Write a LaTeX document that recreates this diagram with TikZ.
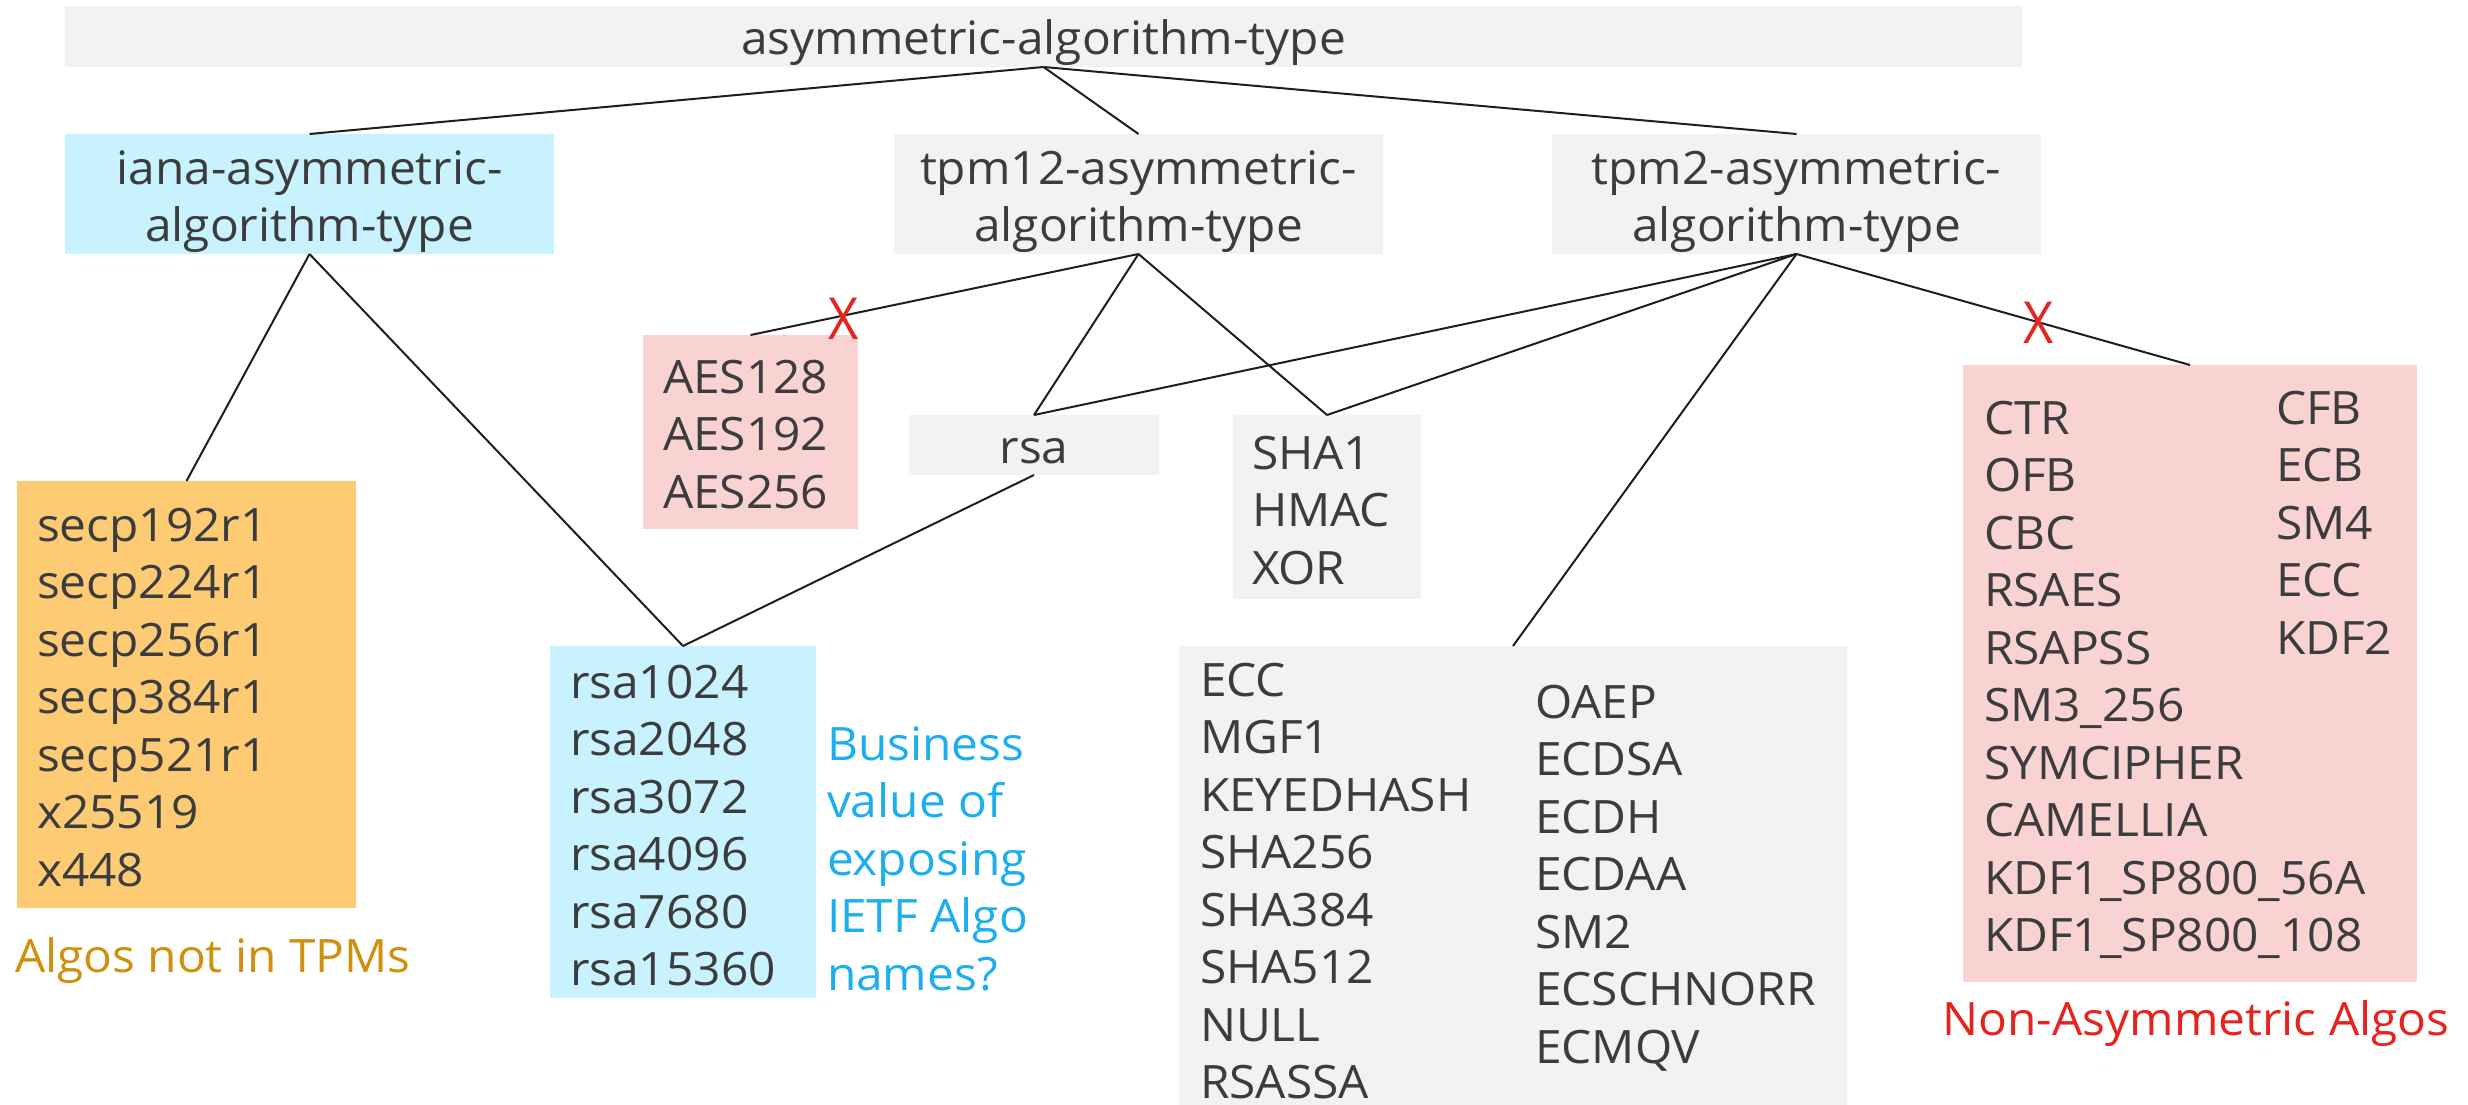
\documentclass[tikz,border=0pt]{standalone}
\usepackage{fontspec}
\setmainfont{Open Sans}[FakeStretch=1.04]
\newfontfamily\xfont{Open Sans}[FakeStretch=0.9]
\definecolor{gbox}{HTML}{F2F2F2}
\definecolor{cbox}{HTML}{C8F2FD}
\definecolor{pbox}{HTML}{F9D3D2}
\definecolor{obox}{HTML}{FCCB74}
\definecolor{txtc}{HTML}{3C3C3E}
\definecolor{ctxt}{HTML}{1CAEEF}
\definecolor{otxt}{HTML}{CF900E}
\definecolor{rtxt}{HTML}{E5231F}
\definecolor{linec}{HTML}{1E1E1E}
\newcommand{\lst}[1]{\begin{tabular}[t]{@{}l@{}}#1\end{tabular}}
\newcommand{\cst}[1]{\begin{tabular}[t]{@{}c@{}}#1\end{tabular}}
\begin{document}
\begin{tikzpicture}[x=1pt,y=-1pt,
  box/.style={inner sep=0pt, outer sep=0pt, draw=none},
  txt/.style={inner sep=0pt, outer sep=0pt, font=\fontsize{46}{57.5}\selectfont, text=txtc},
  conn/.style={draw=linec, line width=2pt},
  xmark/.style={inner sep=0pt, text=rtxt, font=\xfont\fontsize{58}{60}\selectfont}]
\useasboundingbox (0,0) rectangle (2468,1105);
% boxes
\node[box, fill=gbox, minimum width=1957pt, minimum height=61pt] (top) at (1043.5,36.5) {};
\node[box, fill=cbox, minimum width=489pt, minimum height=120pt] (iana) at (309.5,194) {};
\node[box, fill=gbox, minimum width=489pt, minimum height=120pt] (tpm12) at (1138.5,194) {};
\node[box, fill=gbox, minimum width=489pt, minimum height=120pt] (tpm2) at (1796.5,194) {};
\node[box, fill=pbox, minimum width=215pt, minimum height=194pt] (aes) at (750.5,432) {};
\node[box, fill=gbox, minimum width=250pt, minimum height=60pt] (rsa) at (1034,445) {};
\node[box, fill=gbox, minimum width=188pt, minimum height=184pt] (sha) at (1327,507) {};
\node[box, fill=obox, minimum width=339pt, minimum height=427pt] (ecurve) at (186.5,694.5) {};
\node[box, fill=cbox, minimum width=266pt, minimum height=352pt] (rsalist) at (683,822) {};
\node[box, fill=gbox, minimum width=668pt, minimum height=464pt] (ecc) at (1513,878) {};
\node[box, fill=pbox, minimum width=454pt, minimum height=617pt] (pink) at (2190,673.5) {};
% connectors
\draw[conn] (top.south) -- (iana.north);
\draw[conn] (top.south) -- (tpm12.north);
\draw[conn] (top.south) -- (tpm2.north);
\draw[conn] (iana.south) -- (ecurve.north);
\draw[conn] (iana.south) -- (rsalist.north);
\draw[conn] (tpm12.south) -- (aes.north);
\draw[conn] (tpm12.south) -- (rsa.north);
\draw[conn] (tpm12.south) -- (sha.north);
\draw[conn] (rsa.south) -- (rsalist.north);
\draw[conn] (tpm2.south) -- (rsa.north);
\draw[conn] (tpm2.south) -- (sha.north);
\draw[conn] (tpm2.south) -- (ecc.north);
\draw[conn] (tpm2.south) -- (pink.north);
% texts
\node[txt, anchor=base] (ttop) at (1043.5,55) {asymmetric-algorithm-type};
\node[txt, anchor=base] (tiana) at (309.5,184) {\cst{iana-asymmetric-\\algorithm-type}};
\node[txt, anchor=base] (ttpm12) at (1138.5,184) {\cst{tpm12-asymmetric-\\algorithm-type}};
\node[txt, anchor=base] (ttpm2) at (1796.5,184) {\cst{tpm2-asymmetric-\\algorithm-type}};
\node[txt, anchor=base west] (taes) at (663,393) {\lst{AES128\\AES192\\AES256}};
\node[txt, anchor=base] (trsa) at (1034,463) {rsa};
\node[txt, anchor=base west] (tsha) at (1252,469) {\lst{SHA1\\HMAC\\XOR}};
\node[txt, anchor=base west] (tec) at (37,541) {\lst{secp192r1\\secp224r1\\secp256r1\\secp384r1\\secp521r1\\x25519\\x448}};
\node[txt, anchor=base west] (trsal) at (570,698) {\lst{rsa1024\\rsa2048\\rsa3072\\rsa4096\\rsa7680\\rsa15360}};
\node[txt, anchor=base west, text=ctxt] (tbiz) at (827,760) {\lst{Business\\value of\\exposing\\IETF Algo\\names?}};
\node[txt, anchor=base west, text=otxt] (tnot) at (15,972) {Algos not in TPMs};
\node[txt, anchor=base west] (teccl) at (1200,696) {\lst{ECC\\MGF1\\KEYEDHASH\\SHA256\\SHA384\\SHA512\\NULL\\RSASSA}};
\node[txt, anchor=base west] (teccr) at (1535,718) {\lst{OAEP\\ECDSA\\ECDH\\ECDAA\\SM2\\ECSCHNORR\\ECMQV}};
\node[txt, anchor=base west] (tpl) at (1984,434) {\lst{CTR\\OFB\\CBC\\RSAES\\RSAPSS\\SM3\_256\\SYMCIPHER\\CAMELLIA\\KDF1\_SP800\_56A\\KDF1\_SP800\_108}};
\node[txt, anchor=base west] (tpr) at (2276,424) {\lst{CFB\\ECB\\SM4\\ECC\\KDF2}};
\node[txt, anchor=base, text=rtxt] (tnon) at (2196,1035) {Non-Asymmetric Algos};
\node[xmark] (x1) at (844,319) {X};
\node[xmark] (x2) at (2039,323) {X};
\end{tikzpicture}
\end{document}
